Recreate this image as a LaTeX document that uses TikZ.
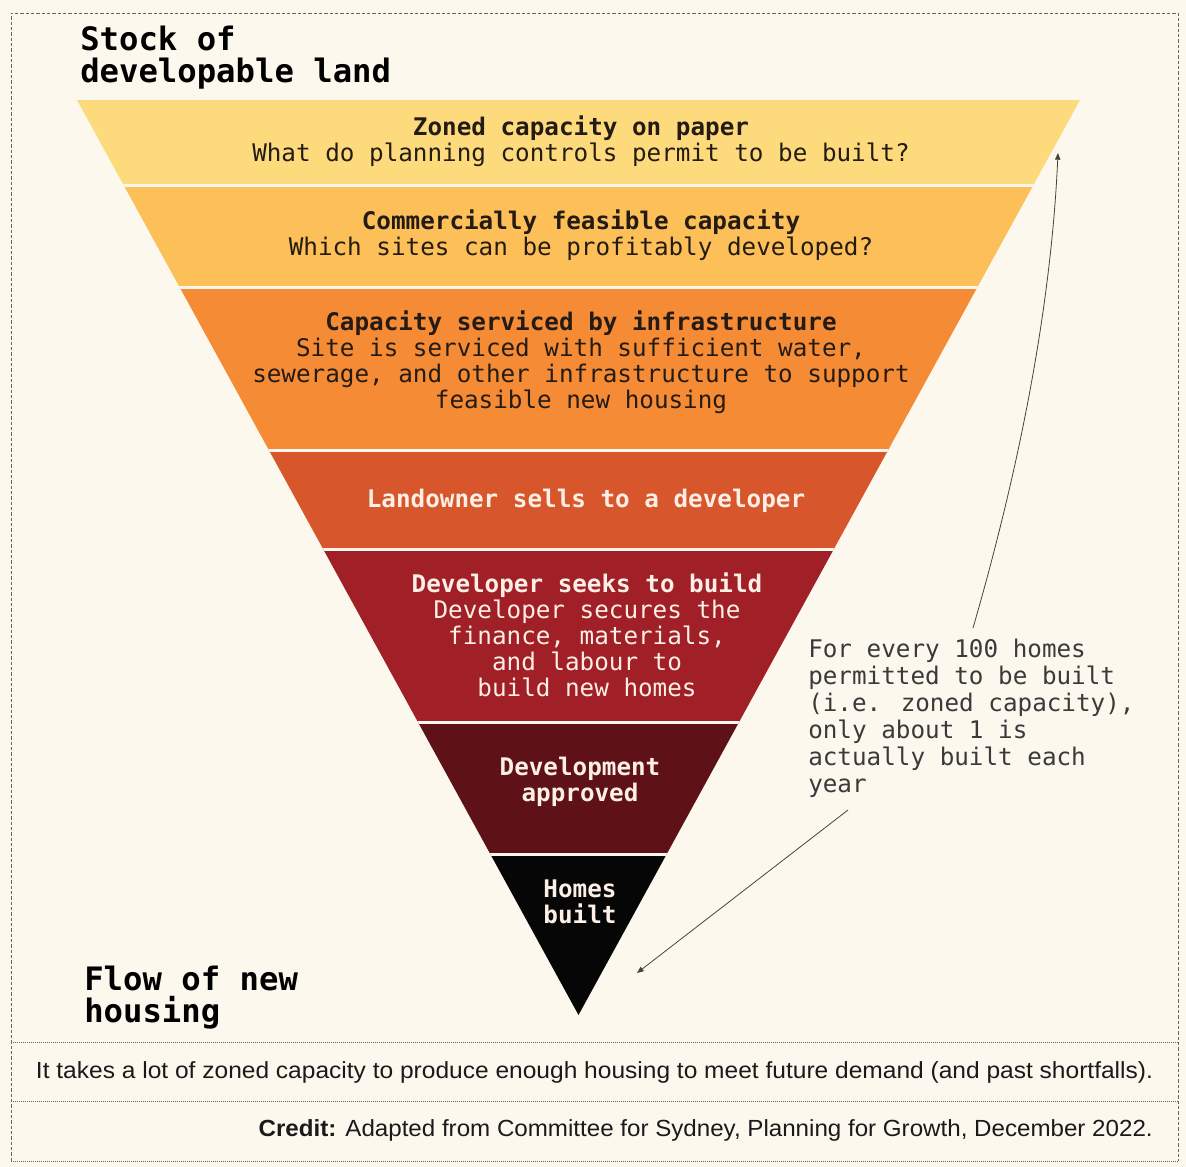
\documentclass[tikz,border=0pt]{standalone}
\usepackage{fontspec}
\usepackage{graphicx}
\setmainfont{Liberation Sans}
\newfontfamily\monofont{DejaVu Sans Mono}
\usetikzlibrary{arrows.meta}
\definecolor{bgc}{HTML}{FCF8EE}
\definecolor{tone}{HTML}{FDDB7C}
\definecolor{ttwo}{HTML}{FDBF57}
\definecolor{tthree}{HTML}{F68B36}
\definecolor{tfour}{HTML}{D8562B}
\definecolor{tfive}{HTML}{A11F26}
\definecolor{tsix}{HTML}{5E1117}
\definecolor{tseven}{HTML}{060606}
\definecolor{sepc}{HTML}{FDF6EE}
\definecolor{darktxt}{HTML}{241C14}
\definecolor{lighttxt}{HTML}{FBEFE6}
\definecolor{notetxt}{HTML}{3A3A3A}
\definecolor{framec}{HTML}{666666}
\definecolor{arrowc}{HTML}{444444}
\definecolor{captxt}{HTML}{1A1A1A}
\tikzset{
  tiertext/.style={font=\monofont\fontsize{18.2}{19.5}\selectfont, align=center, inner sep=0pt},
  darkt/.style={tiertext, text=darktxt},
  lightt/.style={tiertext, text=lighttxt},
  heading/.style={font=\monofont\bfseries\fontsize{24.2}{24}\selectfont, align=left, anchor=west, inner sep=0pt, text=black},
  notetext/.style={font=\monofont\fontsize{18.2}{20.25}\selectfont, align=left, anchor=west, inner sep=0pt, text=notetxt},
  notearrow/.style={draw=arrowc, line width=0.6pt, -{Triangle[length=5pt,width=4pt]}},
  framedash/.style={draw=framec, line width=0.6pt, dash pattern=on 2.5pt off 1.5pt},
  framedot/.style={draw=framec, line width=0.5pt, dash pattern=on 0.6pt off 0.9pt},
  sepline/.style={draw=sepc, line width=2.25pt},
  captext/.style={font=\fontsize{17.5}{19}\selectfont, text=captxt, inner sep=0pt},
}
\begin{document}
\begin{tikzpicture}[x=0.75pt,y=-0.75pt]
\useasboundingbox (0,0) rectangle (1186,1167);
\fill[bgc] (0,0) rectangle (1186,1167);

% frame
\draw[framedash] (11,1161) -- (11,13) -- (1178,13) -- (1178,1161);
\draw[framedot] (11,1042) -- (1178,1042);
\draw[framedot] (11,1101) -- (1178,1101);
\draw[framedot] (11,1161) -- (1178,1161);

% funnel
\begin{scope}
\clip (77,100) -- (1080,100) -- (578.5,1015) -- cycle;
\fill[tone] (0,100) rectangle (1186,185);
\fill[ttwo] (0,185) rectangle (1186,287);
\fill[tthree] (0,287) rectangle (1186,450);
\fill[tfour] (0,450) rectangle (1186,549);
\fill[tfive] (0,549) rectangle (1186,722);
\fill[tsix] (0,722) rectangle (1186,854);
\fill[tseven] (0,854) rectangle (1186,1020);
\draw[sepline] (0,185) -- (1186,185);
\draw[sepline] (0,287) -- (1186,287);
\draw[sepline] (0,450) -- (1186,450);
\draw[sepline] (0,549) -- (1186,549);
\draw[sepline] (0,722) -- (1186,722);
\draw[sepline] (0,854) -- (1186,854);
\end{scope}

% tier texts
\node[darkt] (tierone) at (581,141) {\textbf{Zoned capacity on paper}\\What do planning controls permit to be built?};
\node[darkt] (tiertwo) at (581,235) {\textbf{Commercially feasible capacity}\\Which sites can be profitably developed?};
\node[darkt] (tierthree) at (581,362) {\textbf{Capacity serviced by infrastructure}\\Site is serviced with sufficient water,\\sewerage, and other infrastructure to support\\feasible new housing};
\node[lightt] (tierfour) at (586,501) {\textbf{Landowner sells to a developer}};
\node[lightt] (tierfive) at (587,635) {\textbf{Developer seeks to build}\\Developer secures the\\finance, materials,\\and labour to\\build new homes};
\node[lightt] (tiersix) at (580,782) {\textbf{Development}\\\textbf{approved}};
\node[lightt] (tierseven) at (580,902) {\textbf{Homes}\\\textbf{built}};

% headings
\node[heading] (stock) at (80,58) {Stock of\\developable land};
\node[heading] (flow) at (84,998) {Flow of new\\housing};

% note
\node[notetext] (note) at (808,718) {For every 100 homes\\permitted to be built\\(i.e. zoned capacity),\\only about 1 is\\actually built each\\year};

% arrows
\coordinate (upstart) at (973,628);
\coordinate (upend) at (1058,153);
\coordinate (dnstart) at (848,810);
\coordinate (dnend) at (637,973);
\draw[notearrow] (upstart) .. controls (1010,500) and (1050,330) .. (upend);
\draw[notearrow] (dnstart) -- (dnend);

% captions
\node[captext] (caption) at (594.5,1072) {\resizebox{837.75pt}{\height}{It takes a lot of zoned capacity to produce enough housing to meet future demand (and past shortfalls).}};
\node[captext, anchor=east] (credit) at (1153,1130) {\resizebox{670.5pt}{\height}{\textbf{Credit:} Adapted from Committee for Sydney, Planning for Growth, December 2022.}};
\end{tikzpicture}
\end{document}
